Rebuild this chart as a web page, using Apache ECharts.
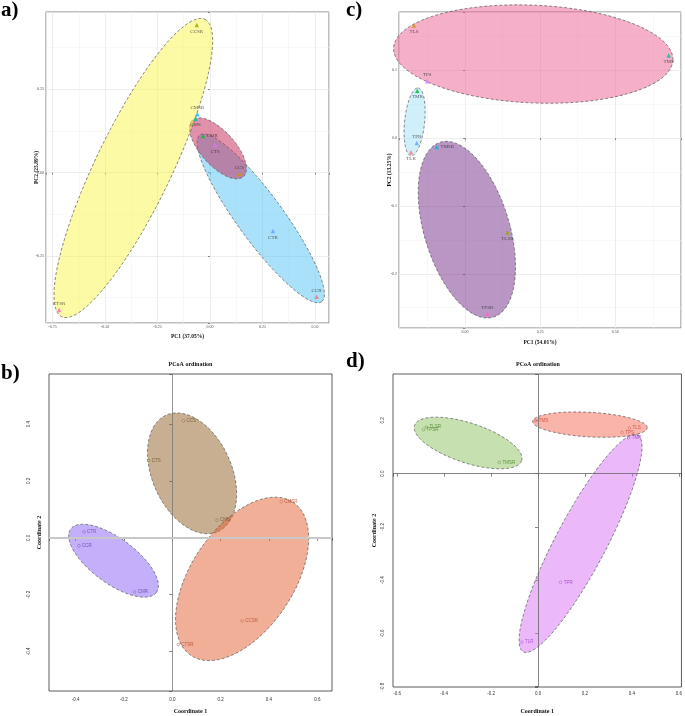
<!DOCTYPE html>
<html><head><meta charset="utf-8">
<script src="https://cdn.jsdelivr.net/npm/echarts@6/dist/echarts.min.js"></script>
<style>html,body{margin:0;padding:0;background:#fff}#c{width:685px;height:716px}</style>
</head><body><div id="c"></div>
<script>
// ---------- Panel a (PCA, C samples) ----------
const aNames = ['CCR','CCS','CCSR','CMR','CMS','CMSR','CTR','CTS','CTSR'];
const aPC1 = [0.508, 0.140, -0.063, -0.033, -0.069, -0.060, 0.300, 0.025, -0.719];
const aPC2 = [-0.372, -0.004, 0.443, 0.110, 0.162, 0.175, -0.175, 0.083, -0.412];
// ellipses (R, S, SR): centre, end of first semi-axis, end of second semi-axis (data units)
const aEllCenter = [[0.242, -0.137], [0.038, 0.073], [-0.365, 0.014]];
const aEllAxis1 = [[0.532, -0.387], [0.159, -0.012], [-0.024, 0.460]];
const aEllAxis2 = [[0.330, -0.096], [0.099, 0.107], [-0.202, -0.035]];

// ---------- Panel c (PCA, T samples) ----------
const cNames = ['TLR','TLS','TLSR','TMR','TMS','TMSR','TPR','TPS','TPSR'];
const cPC1 = [-0.180, -0.170, 0.141, -0.159, 0.678, -0.094, -0.161, -0.126, 0.074];
const cPC2 = [-0.021, 0.166, -0.139, 0.070, 0.122, -0.013, -0.007, 0.084, -0.259];
// ellipses (S, R, SR)
const cEllCenter = [[0.227, 0.124], [-0.168, 0.024], [0.006, -0.135]];
const cEllAxis1 = [[0.692, 0.115], [-0.156, 0.074], [0.094, -0.264]];
const cEllAxis2 = [[0.234, 0.196], [-0.135, 0.022], [0.142, -0.117]];

// ---------- Panel b (PCoA, C samples) ----------
const bNames = ['CCS','CTS','CMS','CMSR','CCSR','CTSR','CTR','CCR','CMR'];
const bGroup = ['S','S','S','SR','SR','SR','R','R','R'];
const bCoord1 = [0.046, -0.098, 0.185, 0.451, 0.289, 0.025, -0.365, -0.386, -0.156];
const bCoord2 = [0.412, 0.272, 0.062, 0.127, -0.293, -0.376, 0.021, -0.028, -0.191];
// ellipses (S, SR, R)
const bEllCenter = [[0.082, 0.227], [0.289, -0.145], [-0.243, -0.081]];
const bEllAxis1 = [[0.189, 0.022], [0.500, 0.125], [-0.066, -0.193]];
const bEllAxis2 = [[0.232, 0.284], [0.466, -0.245], [-0.187, -0.018]];

// ---------- Panel d (PCoA, T samples) ----------
const dNames = ['TMS','TLS','TPS','TMR','TLSR','TPSR','TMSR','TPR','TLR'];
const dGroup = ['S','S','S','R','SR','SR','SR','R','R'];
const dCoord1 = [-0.010, 0.389, 0.358, 0.386, -0.476, -0.488, -0.165, 0.096, -0.069];
const dCoord2 = [0.199, 0.171, 0.155, 0.134, 0.175, 0.165, 0.042, -0.408, -0.633];
// ellipses (SR, R, S)
const dEllCenter = [[-0.298, 0.115], [0.181, -0.262], [0.221, 0.184]];
const dEllAxis1 = [[-0.070, 0.049], [0.425, 0.145], [0.465, 0.172]];
const dEllAxis2 = [[-0.272, 0.186], [0.276, -0.307], [0.223, 0.230]];

// ---------- styling ----------
const SERIF = 'Liberation Serif';
const SANS = 'Liberation Sans';
const hue9 = ['#F8766D','#D39200','#93AA00','#00BA38','#00C19F','#00B9E3','#619CFF','#DB72FB','#FF61C3'];
const aLabelPos = ['top','top','bottom','right','bottom','top','bottom','bottom','top'];
const cLabelPos = ['bottom','bottom','bottom','bottom','bottom','right','top','top','top'];
const aEllFill = ['rgba(85,195,245,0.5)','rgba(195,35,85,0.5)','rgba(249,245,75,0.5)'];
const cEllFill = ['rgba(235,95,145,0.5)','rgba(159,225,245,0.5)','rgba(115,45,135,0.5)'];
const bEllFill = ['rgba(145,95,35,0.5)','rgba(225,95,45,0.5)','rgba(135,95,245,0.5)'];
const dEllFill = ['rgba(141,195,95,0.5)','rgba(215,115,245,0.5)','rgba(245,105,85,0.5)'];
const bColors = {S:'#6E4B2A', SR:'#B5462B', R:'#5B3FA8'};
const dColors = {S:'#C8402F', SR:'#3E7D22', R:'#9B36C0'};

function fmt(step, dec) {
  return v => {
    const k = v / step;
    if (Math.abs(k - Math.round(k)) > 1e-6) return '';
    const r = Math.round(k) * step;
    return (Math.abs(r) < 1e-9 ? 0 : r).toFixed(dec);
  };
}

function ggAxis(gi, min, max, step, dec, name, gap) {
  return {
    type: 'value', gridIndex: gi, min, max, minInterval: step, maxInterval: step, splitNumber: 5,
    name, nameLocation: 'middle', nameGap: gap, nameMoveOverlap: false,
    nameTextStyle: {fontFamily: SERIF, fontWeight: 'bold', fontSize: 5.5, color: '#111'},
    axisLine: {show: false},
    axisTick: {show: true, length: 2, lineStyle: {color: '#444', width: 0.6}},
    axisLabel: {fontFamily: SERIF, fontSize: 4, color: '#4D4D4D', margin: 2, formatter: fmt(step, dec)},
    splitLine: {show: true, lineStyle: {color: '#E8E8E8', width: 0.8}},
    minorTick: {show: false, splitNumber: 2},
    minorSplitLine: {show: true, lineStyle: {color: '#F1F1F1', width: 0.5}}
  };
}

function rAxis(gi, min, max, name, gap, margin, isY) {
  return {
    type: 'value', gridIndex: gi, min, max, minInterval: 0.2, maxInterval: 0.2, splitNumber: 5,
    name, nameLocation: 'middle', nameGap: gap, nameMoveOverlap: false,
    nameTextStyle: {fontFamily: SERIF, fontWeight: 'bold', fontSize: 6, color: '#111'},
    axisLine: {show: false},
    axisTick: {show: true, length: 3, lineStyle: {color: '#333', width: 0.6}},
    axisLabel: {fontFamily: SANS, fontSize: 4.5, color: '#333', margin, rotate: isY ? 90 : 0, formatter: fmt(0.2, 1)},
    splitLine: {show: false}
  };
}

function ellipses(xi, yi, cen, ax1, ax2, fills) {
  return cen.map((c, i) => ({
    type: 'custom', xAxisIndex: xi, yAxisIndex: yi, coordinateSystem: 'cartesian2d',
    silent: true, clip: false, z: 2,
    data: [[c[0], c[1]]],
    renderItem: (params, api) => {
      const M = ax1[i], N = ax2[i];
      const pts = [];
      for (let k = 0; k < 160; k++) {
        const t = 2 * Math.PI * k / 160;
        const x = c[0] + Math.cos(t) * (M[0] - c[0]) + Math.sin(t) * (N[0] - c[0]);
        const y = c[1] + Math.cos(t) * (M[1] - c[1]) + Math.sin(t) * (N[1] - c[1]);
        pts.push(api.coord([x, y]));
      }
      return {type: 'polygon', shape: {points: pts},
        style: {fill: fills[i], stroke: '#555', lineWidth: 0.7, lineDash: [3, 2]}};
    }
  }));
}

function ggPoints(xi, yi, names, xs, ys, pos) {
  return {
    type: 'scatter', xAxisIndex: xi, yAxisIndex: yi, symbol: 'triangle', symbolSize: 4.5, z: 5,
    silent: true,
    data: names.map((n, i) => ({name: n, value: [xs[i], ys[i]], itemStyle: {color: hue9[i]},
      label: {position: pos[i]}})),
    label: {show: true, formatter: '{b}', fontFamily: SERIF, fontSize: 5, color: '#333', distance: 1.5}
  };
}

function rPoints(xi, yi, names, xs, ys, groups, cols, lines) {
  return {
    type: 'scatter', xAxisIndex: xi, yAxisIndex: yi, symbol: 'circle', symbolSize: 2.6, z: 5,
    silent: true,
    data: names.map((n, i) => ({name: n, value: [xs[i], ys[i]],
      itemStyle: {color: 'rgba(255,255,255,0.35)', borderColor: cols[groups[i]], borderWidth: 0.55},
      label: {color: cols[groups[i]]}})),
    label: {show: true, position: 'right', formatter: '{b}', fontFamily: SANS, fontSize: 4.5, distance: 1.5},
    markLine: {silent: true, symbol: ['none', 'none'], label: {show: false}, animation: false,
      data: lines}
  };
}

const chart = echarts.init(document.getElementById('c'), null, {renderer: 'canvas'});
const panelTitle = (t, left, top) => ({text: t, left, top, padding: 0,
  textStyle: {fontFamily: SERIF, fontWeight: 'bold', fontSize: 21, color: '#000'}});
const subTitle = (left, top) => ({text: 'PCoA ordination', left, top, padding: 0, textAlign: 'center',
  textStyle: {fontFamily: SERIF, fontWeight: 'bold', fontSize: 6, color: '#111'}});

chart.setOption({
  animation: false,
  backgroundColor: '#fff',
  title: [panelTitle('a)', 1, 0), panelTitle('c)', 346, 0), panelTitle('b)', 1, 363), panelTitle('d)', 346, 351),
    subTitle(190.5, 361), subTitle(538, 361)],
  grid: [
    {left: 46, top: 12, width: 283, height: 311, show: true, borderColor: '#7F7F7F', borderWidth: 1, backgroundColor: 'transparent'},
    {left: 399, top: 12, width: 282, height: 316, show: true, borderColor: '#7F7F7F', borderWidth: 1, backgroundColor: 'transparent'},
    {left: 49, top: 374, width: 283, height: 317, show: true, borderColor: '#333', borderWidth: 0.8, backgroundColor: 'transparent'},
    {left: 393, top: 374, width: 290, height: 313, show: true, borderColor: '#333', borderWidth: 0.8, backgroundColor: 'transparent'}
  ],
  xAxis: [
    ggAxis(0, -0.781, 0.567, 0.25, 2, 'PC1 (37.05%)', 11),
    ggAxis(1, -0.22, 0.719, 0.25, 2, 'PC1 (54.01%)', 12),
    rAxis(2, -0.510, 0.661, 'Coordinate 1', 17, 6, false),
    rAxis(3, -0.618, 0.611, 'Coordinate 1', 21, 4, false)
  ],
  yAxis: [
    ggAxis(0, -0.451, 0.482, 0.25, 2, 'PC2 (25.89%)', 6),
    ggAxis(1, -0.280, 0.186, 0.1, 1, 'PC2 (13.25%)', 6),
    rAxis(2, -0.540, 0.577, 'Coordinate 2', 7, 18, true),
    rAxis(3, -0.801, 0.374, 'Coordinate 2', 16, 8, true)
  ],
  series: [
    ...ellipses(0, 0, aEllCenter, aEllAxis1, aEllAxis2, aEllFill),
    ggPoints(0, 0, aNames, aPC1, aPC2, aLabelPos),
    ...ellipses(1, 1, cEllCenter, cEllAxis1, cEllAxis2, cEllFill),
    ggPoints(1, 1, cNames, cPC1, cPC2, cLabelPos),
    ...ellipses(2, 2, bEllCenter, bEllAxis1, bEllAxis2, bEllFill),
    rPoints(2, 2, bNames, bCoord1, bCoord2, bGroup, bColors, [
      {xAxis: 0, lineStyle: {color: '#777', width: 0.8, type: 'solid'}},
      {yAxis: 0, lineStyle: {color: '#C8C8C8', width: 2.2, type: 'solid'}}]),
    ...ellipses(3, 3, dEllCenter, dEllAxis1, dEllAxis2, dEllFill),
    rPoints(3, 3, dNames, dCoord1, dCoord2, dGroup, dColors, [
      {xAxis: 0, lineStyle: {color: '#666', width: 0.8, type: 'solid'}},
      {yAxis: 0, lineStyle: {color: '#666', width: 0.8, type: 'solid'}}])
  ]
});
</script>
</body></html>
